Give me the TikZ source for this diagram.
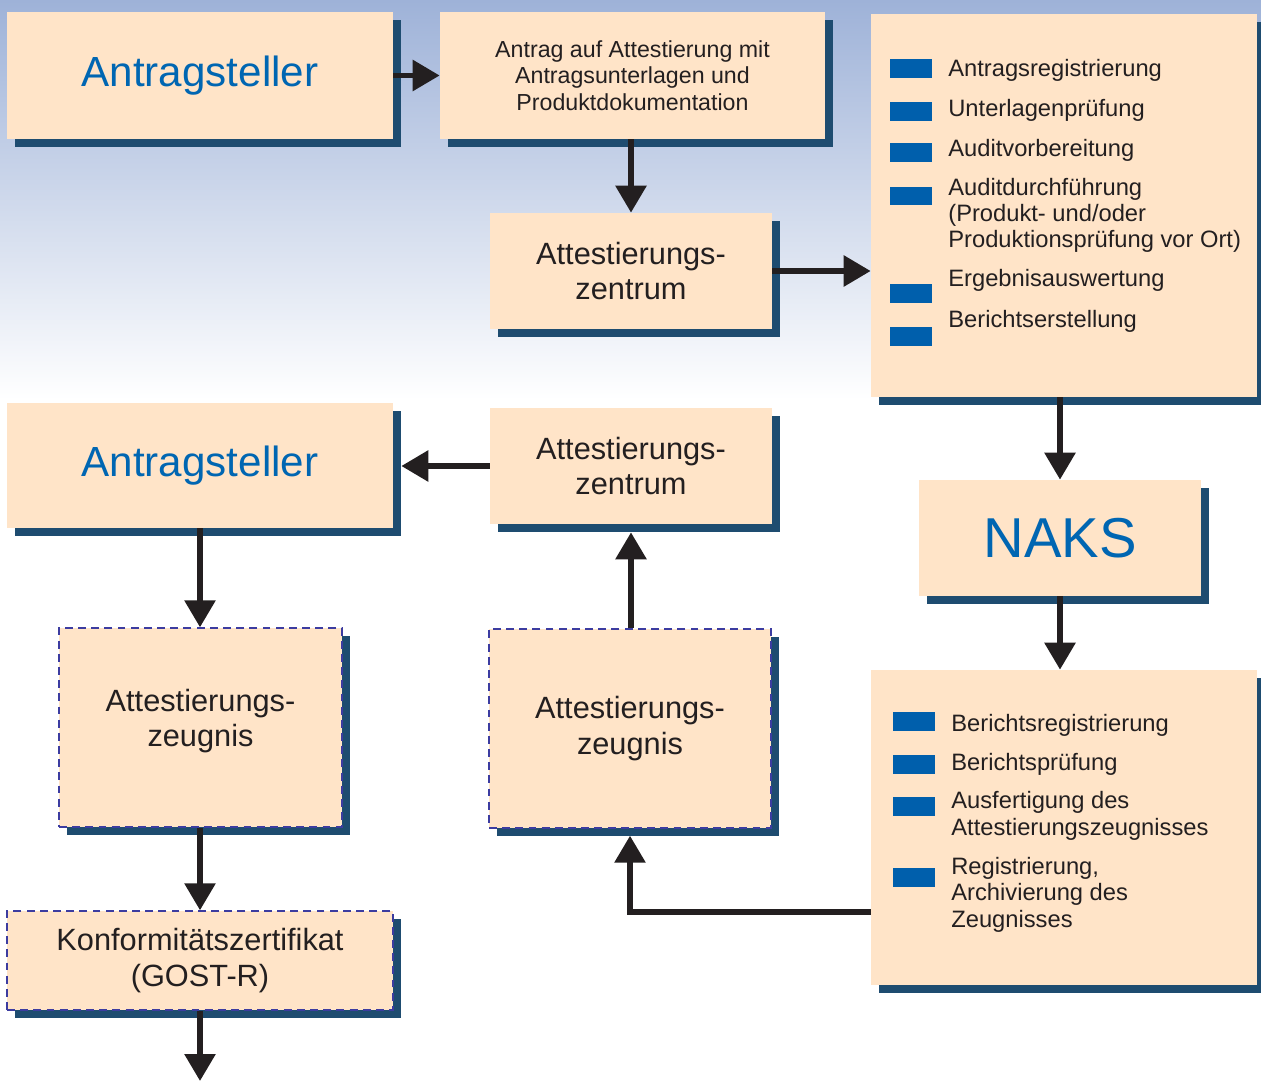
\documentclass[tikz,border=0pt]{standalone}
\usepackage{fontspec}
\setmainfont{Liberation Sans}
\usetikzlibrary{arrows.meta,shadows}
\definecolor{peach}{RGB}{255,228,200}
\definecolor{shadowblue}{RGB}{30,76,112}
\definecolor{dashblue}{RGB}{60,60,160}
\definecolor{itemblue}{RGB}{0,95,172}
\definecolor{titleblue}{RGB}{0,102,178}
\definecolor{sky}{RGB}{158,178,216}
\definecolor{skymid}{RGB}{214,223,239}
\definecolor{textdark}{RGB}{35,31,32}
\begin{document}
\begin{tikzpicture}[x=0.02cm,y=-0.02cm,
  box/.style={fill=peach,inner sep=0pt,align=center,text=textdark,
    drop shadow={shadow xshift=0.16cm,shadow yshift=-0.16cm,opacity=1,fill=shadowblue}},
  dashbox/.style={box,draw=dashblue,line width=0.8pt,dash pattern=on 4.5pt off 3pt},
  big/.style={font=\fontsize{24}{28}\selectfont,text=titleblue},
  mid/.style={font=\fontsize{17.5}{20}\selectfont},
  item/.style={anchor=base west,align=left,inner sep=0pt,text=textdark,font=\fontsize{13.5}{15}\selectfont},
  bullet/.style={fill=itemblue,inner sep=0pt,minimum width=0.84cm,minimum height=0.37cm},
  arr/.style={line width=3.3pt,draw=textdark,-{Triangle[length=0.54cm,width=0.6cm]}}]
\useasboundingbox (0,0) rectangle (1261,1081);
\fill[white] (0,0) rectangle (1261,1081);
\shade[top color=sky,middle color=skymid,bottom color=white] (0,0) rectangle (1261,400);

% upper row
\node[box,big,minimum width=7.72cm,minimum height=2.54cm] (ant1) at (200,75.5) {Antragsteller};
\node[box,minimum width=7.7cm,minimum height=2.54cm,font=\fontsize{13.2}{15}\selectfont] (antrag) at (632.5,75.5)
  {Antrag auf Attestierung mit\\Antragsunterlagen und\\Produktdokumentation};
\node[box,mid,minimum width=5.64cm,minimum height=2.32cm] (zent1) at (631,271) {Attestierungs-\\zentrum};
\node[box,minimum width=7.72cm,minimum height=7.66cm] (list1) at (1064,205.5) {};

\node[bullet] (b11) at (910.5,68.5) {};
\node[bullet] (b12) at (910.5,111.5) {};
\node[bullet] (b13) at (910.5,152.5) {};
\node[bullet] (b14) at (910.5,196) {};
\node[bullet] (b15) at (910.5,293.5) {};
\node[bullet] (b16) at (910.5,336.5) {};
\node[item] (t11) at (948,77) {Antragsregistrierung};
\node[item] (t12) at (948,117) {Unterlagenprüfung};
\node[item] (t13) at (948,157) {Auditvorbereitung};
\node[item] (t14) at (948,248) {Auditdurchführung\\(Produkt- und/oder\\Produktionsprüfung vor Ort)};
\node[item] (t15) at (948,287) {Ergebnisauswertung};
\node[item] (t16) at (948,327) {Berichtserstellung};

% lower part
\node[box,big,minimum width=7.72cm,minimum height=2.5cm] (ant2) at (200,465.5) {Antragsteller};
\node[box,mid,minimum width=5.64cm,minimum height=2.32cm] (zent2) at (631,466) {Attestierungs-\\zentrum};
\node[box,minimum width=5.64cm,minimum height=2.32cm,font=\fontsize{32}{36}\selectfont,text=titleblue] (naks) at (1060,538) {NAKS};
\node[box,minimum width=7.72cm,minimum height=6.3cm] (list2) at (1064,827.5) {};

\node[bullet] (b21) at (913.5,721.5) {};
\node[bullet] (b22) at (913.5,764.5) {};
\node[bullet] (b23) at (913.5,806.5) {};
\node[bullet] (b24) at (913.5,877.5) {};
\node[item] (t21) at (951,731) {Berichtsregistrierung};
\node[item] (t22) at (951,770) {Berichtsprüfung};
\node[item] (t23) at (951,835) {Ausfertigung des\\Attestierungszeugnisses};
\node[item] (t24) at (951,927) {Registrierung,\\Archivierung des\\Zeugnisses};

\node[dashbox,mid,minimum width=5.66cm,minimum height=3.98cm] (zeug1) at (200.5,727.5) {Attestierungs-\\zeugnis\\[-0.3cm]};
\node[dashbox,mid,minimum width=5.64cm,minimum height=3.98cm] (zeug2) at (630,728.5) {Attestierungs-\\zeugnis};
\node[dashbox,mid,minimum width=7.72cm,minimum height=1.98cm] (konf) at (200,960.5) {Konformitätszertifikat\\(GOST-R)};

\coordinate (bend) at (628,912);
\coordinate (out) at (200,1081);

\draw[arr] (ant1.east) -- (antrag.west);
\draw[arr] (antrag.south -| zent1.north) -- (zent1.north);
\draw[arr] (zent1.east) -- (list1.west |- zent1.east);
\draw[arr] (list1.south -| naks.north) -- (naks.north);
\draw[arr] (naks.south) -- (list2.north -| naks.south);
\draw[arr,shorten >=0.14cm] (list2.west |- bend) -| (zeug2.south);
\draw[arr,shorten >=0.16cm] (zent2.south |- zeug2.north) -- (zent2.south);
\draw[arr,shorten >=0.16cm] (zent2.west) -- (ant2.east |- zent2.west);
\draw[arr] (ant2.south) -- (ant2.south |- zeug1.north);
\draw[arr] (zeug1.south -| konf.north) -- (konf.north);
\draw[arr] (konf.south) -- (out);
\end{tikzpicture}
\end{document}
